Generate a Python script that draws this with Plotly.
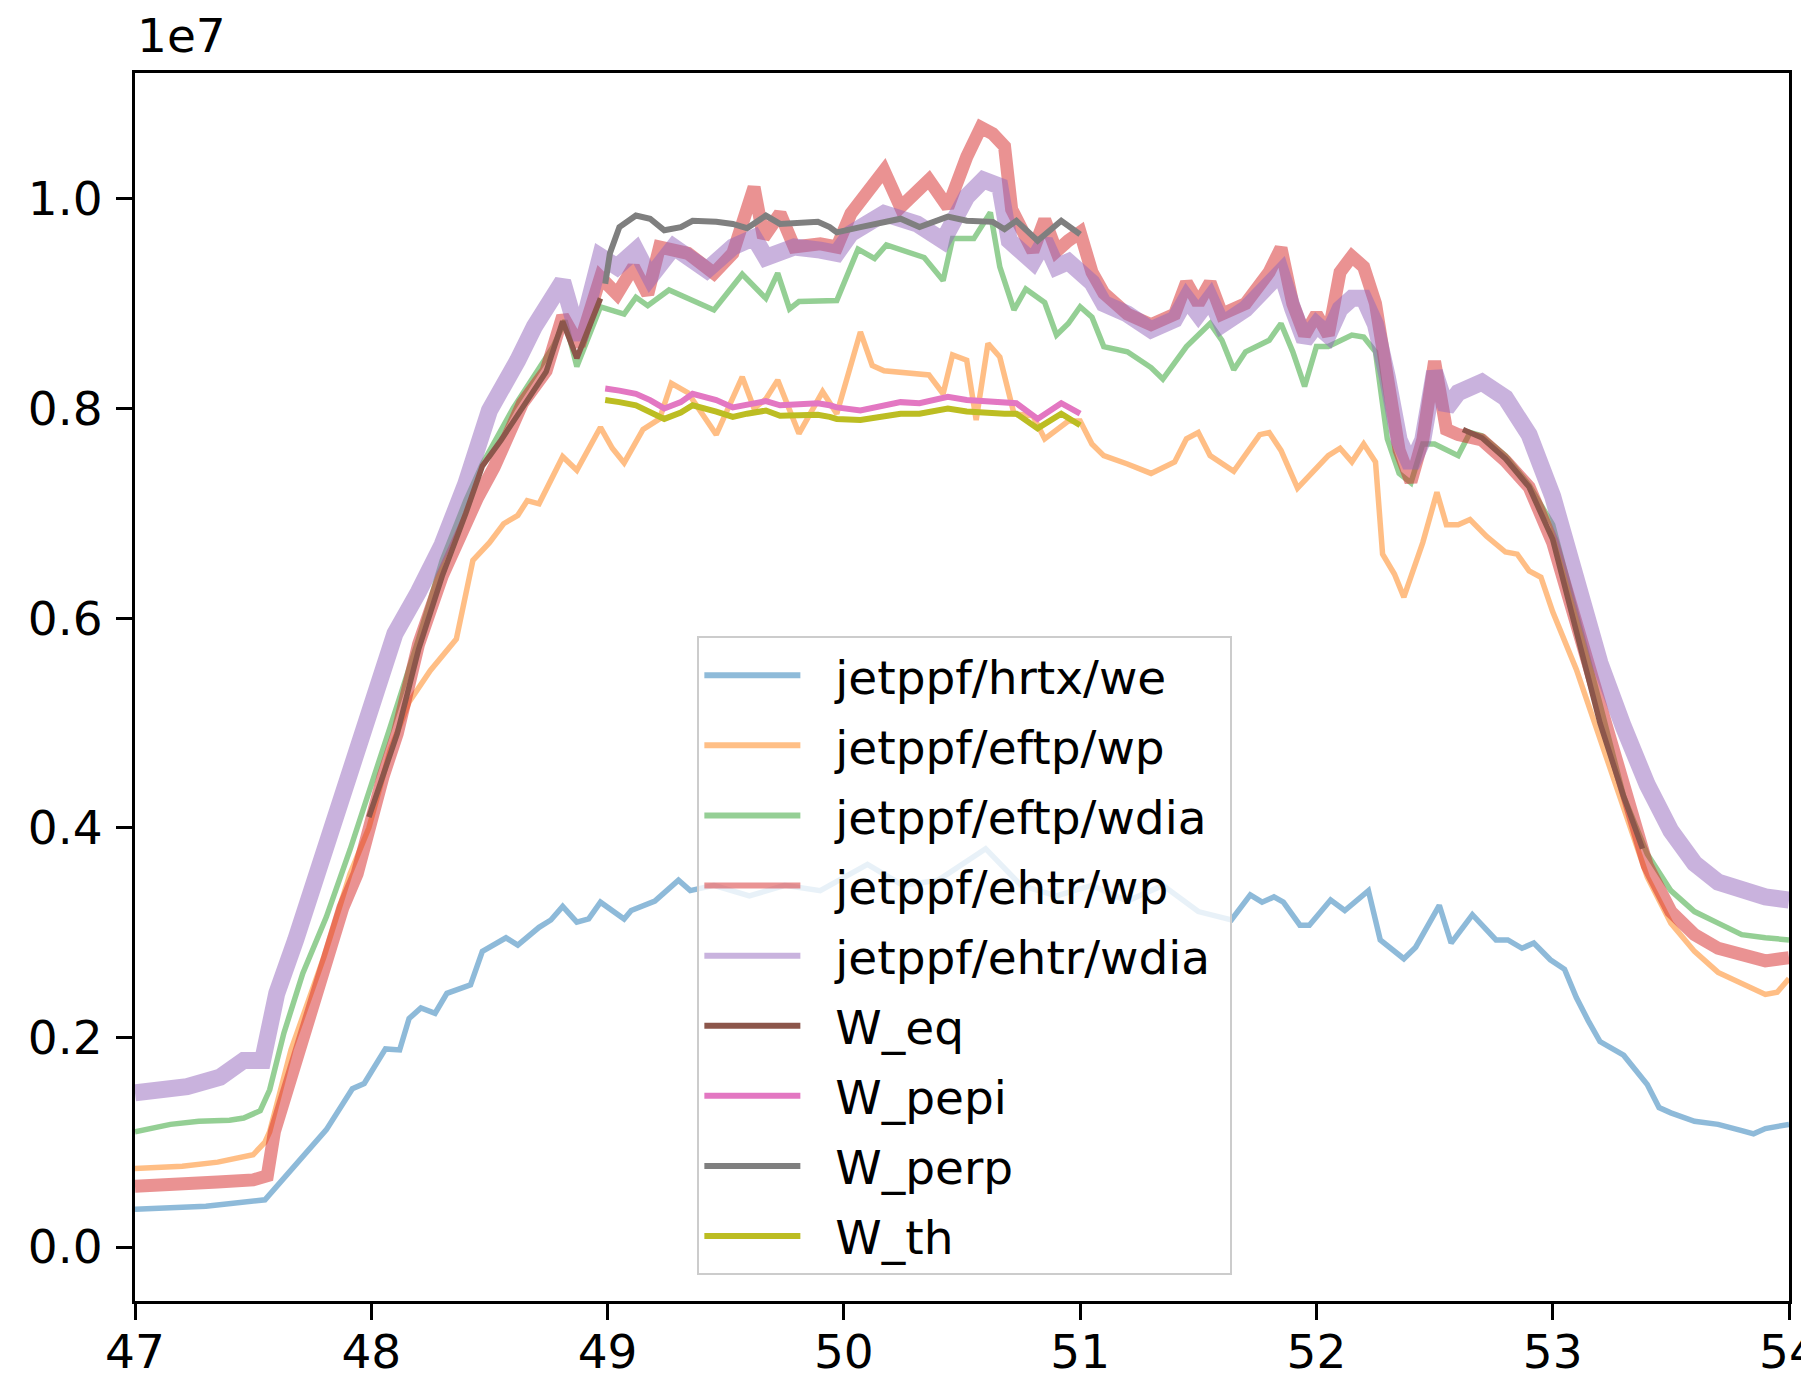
import plotly.graph_objects as go

# ---------------- data (values in units of 1e7) ----------------
t_hrtx = [47.00, 47.30, 47.55, 47.81, 47.92, 47.97, 48.06, 48.12, 48.16, 48.21, 48.27, 48.32, 48.42, 48.47,
          48.57, 48.62, 48.71, 48.76, 48.81, 48.87, 48.92, 48.97, 49.07, 49.10, 49.20, 49.30, 49.35, 49.45,
          49.60, 49.75, 49.90, 50.10, 50.25, 50.40, 50.60, 50.75, 50.90, 51.05, 51.20, 51.35, 51.50, 51.64,
          51.72, 51.77, 51.82, 51.86, 51.93, 51.97, 52.06, 52.12, 52.22, 52.27, 52.37, 52.42, 52.52, 52.57,
          52.66, 52.76, 52.81, 52.87, 52.92, 52.99, 53.05, 53.10, 53.15, 53.20, 53.30, 53.40, 53.45, 53.50,
          53.60, 53.70, 53.80, 53.85, 53.90, 54.00]
w_hrtx = [0.036, 0.039, 0.045, 0.112, 0.151, 0.156, 0.189, 0.188, 0.218, 0.228, 0.223, 0.242, 0.250, 0.282,
          0.295, 0.288, 0.305, 0.312, 0.325, 0.310, 0.313, 0.329, 0.313, 0.321, 0.330, 0.350, 0.340, 0.345,
          0.335, 0.345, 0.340, 0.365, 0.345, 0.350, 0.380, 0.345, 0.335, 0.345, 0.330, 0.345, 0.320, 0.312,
          0.336, 0.329, 0.334, 0.329, 0.307, 0.307, 0.331, 0.321, 0.340, 0.293, 0.275, 0.286, 0.326, 0.290,
          0.317, 0.293, 0.293, 0.285, 0.290, 0.274, 0.265, 0.238, 0.216, 0.196, 0.183, 0.155, 0.133, 0.128,
          0.120, 0.117, 0.111, 0.108, 0.113, 0.117]

t_eftp_wp = [47.00, 47.20, 47.35, 47.50, 47.55, 47.57, 47.66, 47.80, 47.91, 47.99, 48.08, 48.16, 48.25, 48.36,
             48.43, 48.50, 48.56, 48.62, 48.66, 48.71, 48.81, 48.87, 48.97, 49.02, 49.07, 49.15, 49.22, 49.27,
             49.34, 49.46, 49.57, 49.62, 49.67, 49.72, 49.81, 49.91, 49.97, 50.07, 50.12, 50.17, 50.36, 50.42,
             50.46, 50.52, 50.56, 50.61, 50.66, 50.72, 50.80, 50.85, 50.95, 51.00, 51.05, 51.10, 51.20, 51.30,
             51.40, 51.45, 51.50, 51.55, 51.65, 51.70, 51.76, 51.80, 51.85, 51.92, 52.05, 52.10, 52.15, 52.20,
             52.25, 52.28, 52.33, 52.37, 52.45, 52.51, 52.55, 52.60, 52.65, 52.72, 52.80, 52.85, 52.90, 52.95,
             53.00, 53.10, 53.20, 53.30, 53.40, 53.50, 53.60, 53.70, 53.80, 53.90, 53.95, 54.00]
w_eftp_wp = [0.075, 0.077, 0.081, 0.088, 0.100, 0.110, 0.188, 0.277, 0.356, 0.400, 0.474, 0.520, 0.550, 0.580,
             0.655, 0.672, 0.690, 0.698, 0.712, 0.709, 0.754, 0.741, 0.782, 0.762, 0.748, 0.780, 0.790, 0.824,
             0.815, 0.775, 0.830, 0.800, 0.809, 0.827, 0.776, 0.816, 0.795, 0.873, 0.841, 0.836, 0.832, 0.814,
             0.851, 0.846, 0.789, 0.862, 0.849, 0.795, 0.793, 0.771, 0.788, 0.788, 0.766, 0.755, 0.747, 0.738,
             0.749, 0.771, 0.777, 0.755, 0.740, 0.755, 0.775, 0.777, 0.760, 0.724, 0.755, 0.762, 0.749, 0.766,
             0.749, 0.661, 0.642, 0.620, 0.672, 0.720, 0.689, 0.689, 0.694, 0.678, 0.663, 0.661, 0.645, 0.639,
             0.606, 0.551, 0.485, 0.419, 0.353, 0.309, 0.282, 0.262, 0.251, 0.241, 0.243, 0.256]

t_eftp_wdia = [47.00, 47.15, 47.27, 47.40, 47.46, 47.53, 47.57, 47.63, 47.71, 47.81, 47.91, 47.99, 48.08, 48.20,
               48.30, 48.40, 48.47, 48.60, 48.69, 48.77, 48.82, 48.87, 48.97, 49.07, 49.12, 49.17, 49.26, 49.45,
               49.57, 49.67, 49.72, 49.77, 49.81, 49.97, 50.06, 50.13, 50.18, 50.34, 50.42, 50.46, 50.55, 50.62,
               50.66, 50.72, 50.77, 50.85, 50.90, 50.95, 51.00, 51.05, 51.10, 51.20, 51.30, 51.35, 51.45, 51.55,
               51.60, 51.65, 51.70, 51.80, 51.85, 51.90, 51.95, 52.00, 52.05, 52.15, 52.20, 52.25, 52.30, 52.35,
               52.40, 52.45, 52.50, 52.55, 52.60, 52.65, 52.70, 52.80, 52.90, 53.00, 53.10, 53.20, 53.30, 53.40,
               53.50, 53.60, 53.70, 53.80, 53.90, 54.00]
w_eftp_wdia = [0.110, 0.117, 0.120, 0.121, 0.123, 0.130, 0.150, 0.204, 0.261, 0.315, 0.379, 0.436, 0.496, 0.580,
               0.655, 0.712, 0.747, 0.800, 0.830, 0.859, 0.884, 0.840, 0.897, 0.890, 0.906, 0.898, 0.913, 0.894,
               0.928, 0.905, 0.929, 0.895, 0.902, 0.903, 0.952, 0.943, 0.956, 0.944, 0.922, 0.962, 0.962, 0.987,
               0.935, 0.894, 0.914, 0.901, 0.870, 0.881, 0.897, 0.887, 0.859, 0.854, 0.839, 0.828, 0.859, 0.881,
               0.865, 0.837, 0.854, 0.865, 0.881, 0.854, 0.821, 0.859, 0.859, 0.870, 0.868, 0.854, 0.771, 0.738,
               0.729, 0.766, 0.766, 0.760, 0.755, 0.777, 0.774, 0.755, 0.727, 0.689, 0.606, 0.518, 0.430, 0.375,
               0.340, 0.320, 0.309, 0.298, 0.295, 0.293]

t_ehtr_wp = [47.00, 47.20, 47.35, 47.50, 47.56, 47.59, 47.67, 47.77, 47.88, 47.94, 47.99, 48.05, 48.11, 48.20,
             48.30, 48.38, 48.45, 48.52, 48.64, 48.74, 48.81, 48.88, 48.97, 49.04, 49.11, 49.17, 49.22, 49.34,
             49.45, 49.53, 49.62, 49.66, 49.73, 49.79, 49.90, 49.97, 50.03, 50.17, 50.24, 50.36, 50.44, 50.52,
             50.58, 50.63, 50.68, 50.71, 50.75, 50.80, 50.85, 50.90, 50.95, 51.00, 51.05, 51.10, 51.20, 51.30,
             51.40, 51.45, 51.50, 51.55, 51.60, 51.70, 51.80, 51.85, 51.90, 51.95, 52.00, 52.05, 52.10, 52.15,
             52.20, 52.25, 52.30, 52.35, 52.40, 52.45, 52.50, 52.55, 52.60, 52.70, 52.80, 52.90, 53.00, 53.10,
             53.20, 53.30, 53.40, 53.50, 53.60, 53.70, 53.80, 53.90, 54.00]
w_ehtr_wp = [0.058, 0.059, 0.062, 0.064, 0.068, 0.110, 0.172, 0.242, 0.324, 0.356, 0.404, 0.449, 0.490, 0.575,
             0.640, 0.681, 0.715, 0.744, 0.805, 0.836, 0.888, 0.860, 0.925, 0.909, 0.935, 0.909, 0.954, 0.948,
             0.929, 0.948, 1.011, 0.963, 0.986, 0.954, 0.957, 0.954, 0.986, 1.027, 0.992, 1.018, 0.992, 1.040,
             1.068, 1.062, 1.050, 0.990, 0.970, 0.950, 0.980, 0.950, 0.960, 0.968, 0.930, 0.910, 0.890, 0.880,
             0.890, 0.920, 0.900, 0.920, 0.890, 0.900, 0.930, 0.953, 0.900, 0.870, 0.890, 0.870, 0.930, 0.945,
             0.935, 0.900, 0.830, 0.760, 0.730, 0.770, 0.845, 0.780, 0.775, 0.770, 0.750, 0.725, 0.672, 0.595,
             0.507, 0.430, 0.364, 0.320, 0.298, 0.285, 0.278, 0.273, 0.276]

t_ehtr_wdia = [47.00, 47.22, 47.36, 47.46, 47.54, 47.56, 47.60, 47.68, 47.77, 47.85, 47.92, 47.97, 48.02, 48.10,
               48.20, 48.30, 48.40, 48.50, 48.62, 48.69, 48.81, 48.88, 48.97, 49.04, 49.12, 49.18, 49.28, 49.42,
               49.53, 49.62, 49.67, 49.79, 49.90, 49.97, 50.03, 50.17, 50.31, 50.42, 50.52, 50.59, 50.66, 50.70,
               50.75, 50.80, 50.85, 50.90, 50.95, 51.00, 51.05, 51.10, 51.20, 51.30, 51.40, 51.45, 51.50, 51.55,
               51.60, 51.70, 51.80, 51.85, 51.90, 51.95, 52.00, 52.05, 52.10, 52.15, 52.20, 52.25, 52.30, 52.35,
               52.40, 52.45, 52.50, 52.55, 52.60, 52.70, 52.80, 52.90, 53.00, 53.10, 53.20, 53.30, 53.40, 53.50,
               53.60, 53.70, 53.80, 53.90, 54.00]
w_ehtr_wdia = [0.147, 0.153, 0.162, 0.178, 0.178, 0.201, 0.242, 0.293, 0.356, 0.410, 0.452, 0.483, 0.530, 0.585,
               0.625, 0.670, 0.728, 0.798, 0.846, 0.878, 0.921, 0.866, 0.945, 0.935, 0.951, 0.925, 0.954, 0.932,
               0.954, 0.963, 0.944, 0.954, 0.951, 0.948, 0.967, 0.986, 0.976, 0.960, 1.002, 1.018, 1.012, 0.960,
               0.950, 0.940, 0.960, 0.935, 0.940, 0.930, 0.920, 0.900, 0.890, 0.875, 0.885, 0.905, 0.890, 0.905,
               0.880, 0.895, 0.915, 0.930, 0.895, 0.865, 0.880, 0.870, 0.895, 0.905, 0.905, 0.880, 0.830, 0.770,
               0.745, 0.770, 0.835, 0.800, 0.815, 0.825, 0.810, 0.775, 0.716, 0.639, 0.557, 0.496, 0.441, 0.397,
               0.366, 0.348, 0.340, 0.334, 0.331]

t_weq = [47.99, 48.05, 48.11, 48.20, 48.30, 48.40, 48.47, 48.55, 48.64, 48.74, 48.81, 48.87, 48.97,
         None,
         52.62, 52.70, 52.80, 52.90, 53.00, 53.10, 53.20, 53.30, 53.38]
w_weq = [0.410, 0.450, 0.490, 0.570, 0.640, 0.700, 0.745, 0.770, 0.800, 0.835, 0.883, 0.848, 0.905,
         None,
         0.780, 0.772, 0.752, 0.725, 0.675, 0.590, 0.500, 0.430, 0.380]

t_w = [48.99, 49.01, 49.05, 49.12, 49.18, 49.24, 49.31, 49.36, 49.46, 49.53, 49.59, 49.67, 49.73, 49.89,
       49.94, 49.97, 50.07, 50.24, 50.32, 50.44, 50.52, 50.63, 50.68, 50.73, 50.82, 50.92, 51.00]
w_perp = [0.919, 0.948, 0.973, 0.984, 0.981, 0.970, 0.973, 0.979, 0.978, 0.976, 0.972, 0.984, 0.976, 0.978,
          0.973, 0.968, 0.973, 0.981, 0.973, 0.983, 0.979, 0.978, 0.971, 0.979, 0.960, 0.979, 0.966]
w_pepi = [0.819, 0.818, 0.817, 0.814, 0.808, 0.800, 0.806, 0.814, 0.808, 0.801, 0.804, 0.807, 0.803, 0.805,
          0.803, 0.801, 0.798, 0.806, 0.805, 0.811, 0.808, 0.807, 0.806, 0.805, 0.790, 0.805, 0.795]
w_th = [0.808, 0.807, 0.806, 0.803, 0.797, 0.790, 0.796, 0.803, 0.797, 0.792, 0.795, 0.798, 0.793, 0.794,
        0.792, 0.790, 0.789, 0.795, 0.795, 0.800, 0.797, 0.795, 0.795, 0.795, 0.781, 0.795, 0.784]

y_ticks = [0.0, 0.2, 0.4, 0.6, 0.8, 1.0]
y_tick_labels = ["0.0", "0.2", "0.4", "0.6", "0.8", "1.0"]
x_ticks = [47, 48, 49, 50, 51, 52, 53, 54]

# ---------------- styling ----------------
FONT = "DejaVu Sans"
FS = 47
NB = "\u00a0"

series = [
    ("jetppf/hrtx/we", t_hrtx, w_hrtx, "#1f77b4", 0.5, 5.5),
    ("jetppf/eftp/wp", t_eftp_wp, w_eftp_wp, "#ff7f0e", 0.5, 5.5),
    ("jetppf/eftp/wdia", t_eftp_wdia, w_eftp_wdia, "#2ca02c", 0.5, 5.5),
    ("jetppf/ehtr/wp", t_ehtr_wp, w_ehtr_wp, "#d62728", 0.5, 13),
    ("jetppf/ehtr/wdia", t_ehtr_wdia, w_ehtr_wdia, "#9467bd", 0.5, 17),
    ("W_eq", t_weq, w_weq, "#8c564b", 1.0, 5.5),
    ("W_pepi", t_w, w_pepi, "#e377c2", 1.0, 6),
    ("W_perp", t_w, w_perp, "#7f7f7f", 1.0, 6),
    ("W_th", t_w, w_th, "#bcbd22", 1.0, 6),
]

fig = go.Figure()
for name, tx, wy, col, op, lw in series:
    assert len(tx) == len(wy), name
    fig.add_trace(go.Scatter(x=tx, y=wy, mode="lines", name=name, showlegend=False,
                             line=dict(color=col, width=lw), opacity=op, hoverinfo="skip"))
# legend entries (thin handles like the original)
for i, (name, tx, wy, col, op, lw) in enumerate(series):
    fig.add_trace(go.Scatter(x=[None], y=[None], mode="lines", name=NB * 2 + name + NB,
                             legendgroup=f"g{i}", line=dict(color=col, width=6), opacity=op))

axis_common = dict(showgrid=False, zeroline=False, showline=True, linecolor="black", linewidth=3,
                   mirror=True, ticks="outside", ticklen=16, tickwidth=3, tickcolor="black",
                   automargin=False, ticklabeloverflow="allow",
                   tickfont=dict(family=FONT, size=FS, color="black"))

# page body adds an 8px offset, so the figure is 8px smaller and margins shifted
fig.update_layout(
    width=1801, height=1370,
    margin=dict(l=127, r=20, t=65, b=77),
    paper_bgcolor="white", plot_bgcolor="white",
    font=dict(family=FONT, size=FS, color="black"),
    xaxis=dict(range=[47, 54], tickvals=x_ticks, ticklabelstandoff=-8, **axis_common),
    yaxis=dict(range=[-0.0515, 1.12], tickvals=y_ticks, ticktext=y_tick_labels,
               ticklabelstandoff=4, **axis_common),
    legend=dict(x=0.34, y=0.021, xanchor="left", yanchor="bottom",
                bgcolor="rgba(255,255,255,0.8)", bordercolor="#cccccc", borderwidth=2,
                font=dict(family=FONT, size=FS, color="black"), tracegroupgap=6,
                itemwidth=96),
    annotations=[dict(text="1e7", xref="paper", yref="paper", x=0, y=1, xanchor="left",
                      yanchor="bottom", yshift=8, showarrow=False,
                      font=dict(family=FONT, size=FS, color="black"))],
)

fig.write_html("out.html")
